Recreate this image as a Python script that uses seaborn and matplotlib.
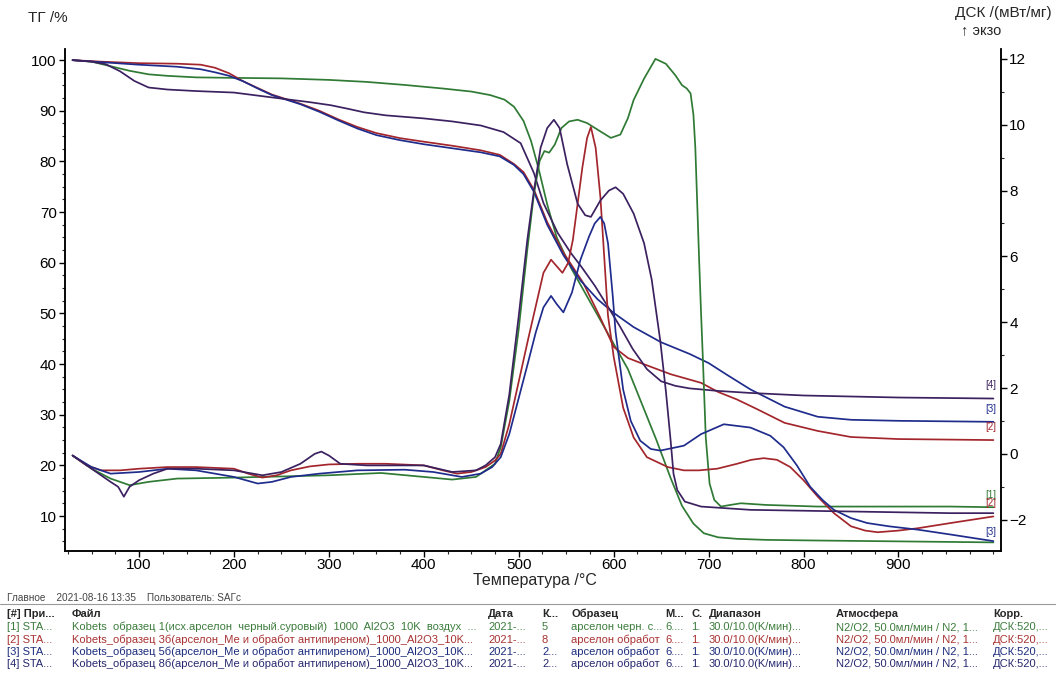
#! /usr/bin/env python3
# -*- coding: utf-8 -*-

## ТГ / ДСК кривые, четыре образца арселона

import numpy as np
import pandas as pd
import matplotlib
matplotlib.use('Agg')
import matplotlib.pyplot as plt
from matplotlib.lines import Line2D
from matplotlib.ticker import MultipleLocator, FixedLocator
import seaborn as sns


## Данные - - - - - - - - - - - - - - - - - - - - #
samples = ['[1]', '[2]', '[3]', '[4]']

## ТГ, %
tg1_t = [30, 50, 70, 90, 110, 130, 160, 200, 250, 300, 340, 380, 420, 450,
         470, 485, 495, 505, 513, 521, 530, 540, 555, 570, 585, 600, 615,
         630, 645, 660, 672, 684, 695, 710, 730, 760, 800, 850, 900, 950, 1000]
tg1 = [100, 99.7, 98.8, 97.9, 97.2, 96.9, 96.6, 96.5, 96.4, 96.1, 95.7,
       95.1, 94.4, 93.8, 93.1, 92.2, 90.8, 88, 84, 78.5, 71.5, 65, 59, 54,
       49, 44, 39, 32, 25, 17.5, 12, 8.5, 6.6, 5.8, 5.5, 5.3, 5.2, 5.1, 5.0,
       4.9, 4.8]

tg2_t = [30, 60, 100, 140, 165, 180, 195, 210, 225, 240, 255, 270, 290, 310,
         330, 350, 375, 400, 430, 460, 480, 495, 505, 516, 530, 547, 568, 585,
         600, 615, 630, 660, 692, 710, 730, 750, 780, 815, 850, 900, 950, 1000]
tg2 = [100, 99.7, 99.4, 99.3, 99.1, 98.5, 97.4, 95.8, 94.5, 93.2, 92.3, 91.4,
       90, 88.3, 86.8, 85.6, 84.6, 83.9, 83.1, 82.2, 81.3, 79.5, 77.9, 74.4,
       68, 62, 56, 49.5, 43.4, 41.2, 40.1, 38, 36.3, 34.5, 33, 31.2, 28.4,
       26.8, 25.6, 25.2, 25.1, 25.0]

tg3_t = [30, 60, 100, 140, 165, 180, 195, 210, 225, 240, 255, 270, 290, 310,
         330, 350, 375, 400, 430, 460, 480, 495, 505, 516, 530, 547, 565, 583,
         600, 621, 650, 680, 700, 720, 744, 780, 815, 850, 900, 950, 1000]
tg3 = [100, 99.6, 99.1, 98.7, 98.2, 97.6, 96.9, 95.8, 94.4, 93.1, 92.2, 91.3,
       89.8, 88.1, 86.5, 85.2, 84.2, 83.4, 82.6, 81.8, 81, 79.3, 77.5, 74,
       67.5, 61.5, 56.5, 52.8, 50.1, 47.3, 44.3, 42, 40.2, 37.8, 35, 31.6,
       29.6, 29, 28.8, 28.7, 28.6]

tg4_t = [30, 50, 65, 80, 95, 110, 130, 160, 200, 246, 280, 302, 320, 337,
         360, 400, 430, 460, 484, 502, 516, 526, 541, 555, 566, 580, 594, 607,
         620, 635, 650, 665, 680, 710, 744, 800, 850, 900, 1000]
tg4 = [100, 99.7, 99.2, 97.8, 95.9, 94.6, 94.2, 93.9, 93.6, 92.5, 91.7, 91.1,
       90.4, 89.7, 89.1, 88.5, 87.9, 87.1, 85.8, 83.6, 77.7, 71.8, 65.9, 61.9,
       59.2, 55.5, 51.3, 47.3, 43, 39, 36.6, 35.7, 35.2, 34.7, 34.3, 33.8,
       33.6, 33.4, 33.2]

## ДСК, мВт/мг
dsc1_t = [30, 50, 70, 90, 110, 140, 200, 300, 355, 400, 430, 455, 470, 475,
          481, 490, 500, 509, 516, 522, 527, 532, 538, 545, 553, 562, 572,
          583, 597, 607, 615, 621, 632, 644, 655, 665, 672, 677, 681, 684,
          686, 688, 690, 692, 694, 697, 701, 706, 713, 723, 734, 760, 815,
          900, 955, 1000]
dsc1 = [-0.05, -0.45, -0.75, -0.95, -0.85, -0.75, -0.72, -0.65, -0.58, -0.7,
        -0.78, -0.7, -0.4, -0.3, 0.2, 1.6, 3.8, 6.2, 7.9, 8.9, 9.2, 9.15,
        9.4, 9.9, 10.1, 10.15, 10.05, 9.85, 9.6, 9.7, 10.2, 10.75, 11.4,
        12.0, 11.85, 11.5, 11.2, 11.1, 10.95, 10.3, 9.3, 7.6, 5.9, 4.3, 2.85,
        0.5, -0.9, -1.4, -1.6, -1.55, -1.5, -1.55, -1.6, -1.6, -1.6, -1.62]

dsc2_t = [30, 45, 60, 80, 100, 130, 160, 200, 215, 230, 245, 260, 280, 300,
          330, 360, 400, 420, 435, 450, 465, 475, 481, 490, 500, 510, 518,
          526, 534, 540, 546, 552, 557, 562, 567, 572, 576, 581, 586, 590,
          594, 600, 610, 621, 635, 657, 674, 690, 709, 730, 745, 758, 772,
          786, 800, 815, 832, 850, 865, 878, 900, 920, 955, 1000]
dsc2 = [-0.05, -0.35, -0.5, -0.5, -0.45, -0.4, -0.4, -0.45, -0.6, -0.72,
        -0.65, -0.5, -0.38, -0.32, -0.3, -0.3, -0.35, -0.5, -0.6, -0.55, -0.4,
        -0.2, 0.0, 0.9, 2.2, 3.5, 4.5, 5.5, 5.9, 5.7, 5.5, 5.8, 6.5, 7.6, 8.7,
        9.6, 9.93, 9.3, 7.8, 6.0, 4.2, 2.95, 1.4, 0.5, -0.1, -0.4, -0.5, -0.5,
        -0.45, -0.3, -0.18, -0.13, -0.18, -0.4, -0.8, -1.3, -1.8, -2.2, -2.33,
        -2.38, -2.33, -2.26, -2.1, -1.9]

dsc3_t = [30, 50, 70, 100, 130, 160, 180, 200, 225, 240, 260, 290, 330, 380,
          410, 440, 460, 472, 481, 490, 500, 510, 518, 526, 534, 540, 547,
          556, 565, 574, 580, 586, 590, 594, 599, 602, 610, 618, 628, 639, 649,
          674, 692, 716, 744, 765, 779, 793, 807, 820, 832, 850, 867, 890, 920,
          955, 1000]
dsc3 = [-0.05, -0.4, -0.6, -0.55, -0.45, -0.5, -0.6, -0.7, -0.9, -0.85, -0.7,
        -0.6, -0.5, -0.48, -0.55, -0.7, -0.6, -0.4, -0.1, 0.6, 1.7, 2.8, 3.7,
        4.45, 4.8, 4.55, 4.3, 4.9, 5.9, 6.6, 7.0, 7.2, 7.0, 6.4, 4.8, 3.7,
        1.95, 1.0, 0.4, 0.15, 0.1, 0.25, 0.6, 0.9, 0.8, 0.55, 0.2, -0.35,
        -1.0, -1.4, -1.7, -1.95, -2.1, -2.2, -2.3, -2.45, -2.65]

dsc4_t = [30, 50, 70, 78, 84, 90, 100, 115, 130, 160, 200, 230, 250, 270,
          285, 292, 300, 312, 340, 400, 430, 455, 465, 475, 481, 490, 500,
          509, 516, 523, 530, 537, 543, 551, 562, 570, 576, 586, 595, 602,
          610, 621, 632, 640, 649, 655, 660, 663, 667, 675, 692, 744, 850,
          955, 1000]
dsc4 = [-0.05, -0.45, -0.85, -1.0, -1.3, -1.0, -0.8, -0.6, -0.45, -0.45,
        -0.5, -0.65, -0.55, -0.3, 0.0, 0.07, -0.05, -0.3, -0.35, -0.35, -0.55,
        -0.5, -0.35, -0.1, 0.3, 1.8, 4.2, 6.5, 8.0, 9.3, 9.9, 10.15, 9.9, 8.8,
        7.6, 7.25, 7.2, 7.7, 8.0, 8.1, 7.9, 7.3, 6.4, 5.3, 3.45, 1.9, 0.4,
        -0.6, -1.1, -1.45, -1.6, -1.7, -1.75, -1.8, -1.8]

## Таблица под графиком
header_line = 'Главное    2021-08-16 13:35    Пользователь: SAГс'
col_names = ['[#] При...', 'Файл', 'Дата', 'К...', 'Образец', 'М...', 'С.',
             'Диапазон', 'Атмосфера', 'Корр.']
row_1 = ['[1] STA...', 'Kobets  образец 1(исх.арселон  черный.суровый)  1000  Al2O3  10K  воздух  ...',
         '2021-...', '5', 'арселон черн. с...', '6....', '1.',
         '30.0/10.0(K/мин)...', 'N2/O2, 50.0мл/мин / N2, 1...', 'ДСК:520,...']
row_2 = ['[2] STA...', 'Kobets_образец 3б(арселон_Ме и обработ антипиреном)_1000_Al2O3_10K...',
         '2021-...', '8', 'арселон обработ', '6....', '1.',
         '30.0/10.0(K/мин)...', 'N2/O2, 50.0мл/мин / N2, 1...', 'ДСК:520,...']
row_3 = ['[3] STA...', 'Kobets_образец 5б(арселон_Ме и обработ антипиреном)_1000_Al2O3_10K...',
         '2021-...', '2...', 'арселон обработ', '6....', '1.',
         '30.0/10.0(K/мин)...', 'N2/O2, 50.0мл/мин / N2, 1...', 'ДСК:520,...']
row_4 = ['[4] STA...', 'Kobets_образец 8б(арселон_Ме и обработ антипиреном)_1000_Al2O3_10K...',
         '2021-...', '2...', 'арселон обработ', '6....', '1.',
         '30.0/10.0(K/мин)...', 'N2/O2, 50.0мл/мин / N2, 1...', 'ДСК:520,...']


## Оформление - - - - - - - - - - - - - - - - - - - - - - - - - - - - #
sns.set_style('ticks')
plt.rcParams['font.family'] = ['Liberation Sans', 'DejaVu Sans']

cores = {'[1]': '#2f7a34', '[2]': '#a3262c', '[3]': '#1f2c8c', '[4]': '#3b2160'}
cores_tab = ['#3c7c3c', '#a83232', '#1c2c7c', '#26286e']

W, H = 1056, 675
fig = plt.figure(figsize=(W / 100, H / 100), dpi=100)
ax = fig.add_axes([65 / W, 1 - 551 / H, (1001 - 65) / W, (551 - 49) / H])
ax2 = ax.twinx()

df_tg = pd.concat([pd.DataFrame({'T': t, 'v': v, 'n': n}) for t, v, n in
                   zip([tg1_t, tg2_t, tg3_t, tg4_t], [tg1, tg2, tg3, tg4], samples)])
df_dsc = pd.concat([pd.DataFrame({'T': t, 'v': v, 'n': n}) for t, v, n in
                    zip([dsc1_t, dsc2_t, dsc3_t, dsc4_t], [dsc1, dsc2, dsc3, dsc4], samples)])

sns.lineplot(data=df_tg, x='T', y='v', hue='n', palette=cores, sort=False,
             estimator=None, legend=False, linewidth=1.25, ax=ax)
sns.lineplot(data=df_dsc, x='T', y='v', hue='n', palette=cores, sort=False,
             estimator=None, legend=False, linewidth=1.25, ax=ax2)

ax.set_xlim(22, 1008)
ax.set_ylim(3.1, 102.2)
ax2.set_ylim(-2.95, 12.3)

ax.xaxis.set_major_locator(FixedLocator(list(range(100, 1000, 100))))
ax.xaxis.set_minor_locator(MultipleLocator(25))
ax.yaxis.set_major_locator(MultipleLocator(10))
ax.yaxis.set_minor_locator(MultipleLocator(2.5))
ax2.yaxis.set_major_locator(MultipleLocator(2))
ax2.yaxis.set_minor_locator(MultipleLocator(1))

for a in (ax, ax2):
    a.set_xlabel('')
    a.set_ylabel('')
    a.spines['top'].set_visible(False)
    for s in ('left', 'right', 'bottom'):
        a.spines[s].set_linewidth(1.1)
        a.spines[s].set_color('black')
    a.tick_params(which='major', direction='out', length=4, width=1,
                  labelsize=11, colors='black', pad=2)
    a.tick_params(which='minor', direction='out', length=2.5, width=0.8)

ax.tick_params(axis='x', pad=1)

## подписи осей
fig.text(28 / W, 1 - 18 / H, 'ТГ /%', fontsize=11, va='center', ha='left')
fig.text(1052 / W, 1 - 13 / H, 'ДСК /(мВт/мг)', fontsize=11, va='center', ha='right')
fig.text(1001 / W, 1 - 30 / H, '↑ экзо', fontsize=10.5, va='center', ha='right')
fig.text(535 / W, 1 - 581 / H, 'Температура /°C', fontsize=11.5, va='center',
         ha='center')

## метки кривых у правого края
for n, y in zip(['[4]', '[3]', '[2]'], [35.9, 31.2, 27.6]):
    ax.text(997, y, n, color=cores[n], fontsize=7, ha='center', va='center')
for n, y in zip(['[1]', '[2]', '[3]'], [-1.25, -1.5, -2.38]):
    ax2.text(997, y, n, color=cores[n], fontsize=7, ha='center', va='center')

## таблица
fig.text(7 / W, 1 - 598 / H, header_line, fontsize=7.2, color='#444444', va='center')
fig.add_artist(Line2D([0, 1], [1 - 604 / H] * 2, color='#9a9a9a', lw=0.8))
col_x = [7, 72, 488, 542, 571, 665, 691, 709, 836, 993]
for x, txt in zip(col_x, col_names):
    fig.text(x / W, 1 - 614 / H, txt, fontsize=8, fontweight='bold', va='center')
for row, y, c in zip([row_1, row_2, row_3, row_4], [627, 640, 652, 664], cores_tab):
    for x, txt in zip(col_x, row):
        fig.text(x / W, 1 - y / H, txt, fontsize=8, color=c, va='center')

fig.savefig('out.png', dpi=100)
